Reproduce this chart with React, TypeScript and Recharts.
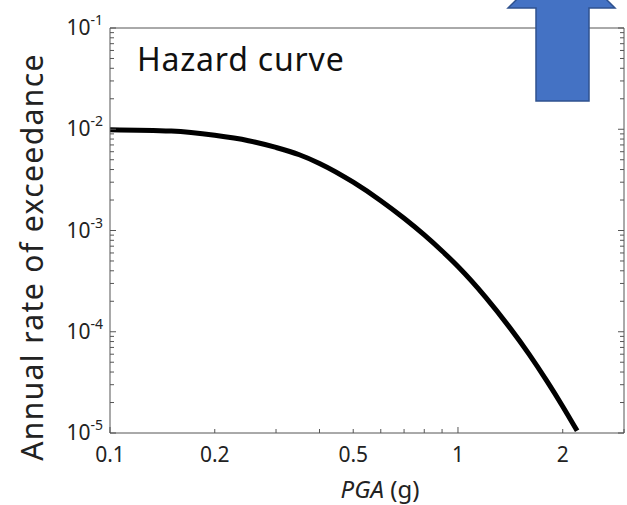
import { LineChart, Line, XAxis, YAxis } from "recharts";

// hazard curve
const pga = [0.1, 0.15, 0.2, 0.25, 0.3, 0.35, 0.4, 0.5, 0.6, 0.7, 0.8, 0.9, 1.0, 1.2, 1.4, 1.6, 1.8, 2.0, 2.2];
const rate = [
  0.00991, 0.00959, 0.00871, 0.00771, 0.00661, 0.0056, 0.0046, 0.003, 0.00197, 0.00132,
  0.000904, 0.000627, 0.000441, 0.00022, 0.000113, 0.0000601, 0.0000327, 0.0000183, 0.0000105,
];

const xTicks = [0.1, 0.2, 0.3, 0.4, 0.5, 0.6, 0.7, 0.8, 0.9, 1, 2, 3];
const xLabels = [0.1, 0.2, 0.5, 1, 2];
const yLabels = [1e-5, 1e-4, 1e-3, 1e-2, 1e-1];
const yTicks = yLabels.flatMap((d, i) =>
  i < yLabels.length - 1 ? [d, ...[2, 3, 4, 5, 6, 7, 8, 9].map((m) => m * d)] : [d]
);

const data = pga.map((x, i) => ({ x, y: rate[i] }));

const FONT = "'Noto Sans', sans-serif";
const AXIS = "#555";

const isMajor = (v: number) => Math.abs(Math.log10(v) - Math.round(Math.log10(v))) < 1e-6;

// ticks point inward, so the tick component draws them itself
const BottomTick = ({ x, y, payload }: any) => {
  const v = payload.value;
  const len = isMajor(v) ? 6 : 4;
  const show = xLabels.some((l) => Math.abs(l - v) < 1e-9);
  return (
    <g>
      <line x1={x} x2={x} y1={y} y2={y - len} stroke={AXIS} strokeWidth={1} />
      {show && (
        <text x={x} y={y} dy={29} textAnchor="middle" fontFamily={FONT} fontSize={21} fill="#222">
          {String(v)}
        </text>
      )}
    </g>
  );
};

const TopTick = ({ x, y, payload }: any) => {
  const len = isMajor(payload.value) ? 6 : 4;
  return <line x1={x} x2={x} y1={y} y2={y + len} stroke={AXIS} strokeWidth={1} />;
};

const LeftTick = ({ x, y, payload }: any) => {
  const v = payload.value;
  const major = yLabels.some((l) => Math.abs(l - v) / l < 1e-6);
  const exp = Math.round(Math.log10(v));
  return (
    <g>
      <line x1={x} x2={x + (major ? 6 : 4)} y1={y} y2={y} stroke={AXIS} strokeWidth={1} />
      {major && (
        <text x={x - 7} y={y} dy={7} textAnchor="end" fontFamily={FONT} fontSize={21} fill="#222">
          10
          <tspan dy={-10} fontSize={14}>
            {String(exp)}
          </tspan>
        </text>
      )}
    </g>
  );
};

const RightTick = ({ x, y, payload }: any) => {
  const v = payload.value;
  const major = yLabels.some((l) => Math.abs(l - v) / l < 1e-6);
  return <line x1={x} x2={x - (major ? 6 : 4)} y1={y} y2={y} stroke={AXIS} strokeWidth={1} />;
};

export default function App() {
  return (
    <div style={{ position: "absolute", left: 0, top: 0, width: 627, height: 505, background: "#fff" }}>
      <LineChart width={627} height={505} data={data} margin={{ top: 27, right: 2, left: 0, bottom: 0 }}>
        <XAxis
          dataKey="x"
          type="number"
          scale="log"
          domain={[0.1, 3]}
          ticks={xTicks}
          interval={0}
          allowDataOverflow
          height={72}
          tickSize={0}
          tickMargin={0}
          tickLine={false}
          stroke={AXIS}
          tick={<BottomTick />}
        />
        <XAxis
          xAxisId="top"
          orientation="top"
          type="number"
          scale="log"
          domain={[0.1, 3]}
          ticks={xTicks}
          interval={0}
          allowDataOverflow
          height={1}
          tickSize={0}
          tickMargin={0}
          tickLine={false}
          stroke={AXIS}
          tick={<TopTick />}
        />
        <YAxis
          type="number"
          scale="log"
          domain={[1e-5, 1e-1]}
          ticks={yTicks}
          interval={0}
          allowDataOverflow
          width={110}
          tickSize={0}
          tickMargin={0}
          tickLine={false}
          stroke={AXIS}
          tick={<LeftTick />}
        />
        <YAxis
          yAxisId="right"
          orientation="right"
          type="number"
          scale="log"
          domain={[1e-5, 1e-1]}
          ticks={yTicks}
          interval={0}
          allowDataOverflow
          width={1}
          tickSize={0}
          tickMargin={0}
          tickLine={false}
          stroke={AXIS}
          tick={<RightTick />}
        />
        <Line
          type="monotone"
          dataKey="y"
          stroke="#000"
          strokeWidth={5}
          dot={false}
          isAnimationActive={false}
        />
      </LineChart>
      <svg width={627} height={505} style={{ position: "absolute", left: 0, top: 0, pointerEvents: "none" }}>
        <text x={137} y={71} fontFamily={FONT} fontSize={32} letterSpacing={0.8} fill="#111">
          Hazard curve
        </text>
        <text
          transform="translate(43, 257) rotate(-90)"
          textAnchor="middle"
          fontFamily={FONT}
          fontSize={30}
          letterSpacing={1.4}
          fill="#222"
        >
          Annual rate of exceedance
        </text>
        <text x={380} y={498} textAnchor="middle" fontFamily={FONT} fontSize={24} fill="#222">
          <tspan fontStyle="italic">PGA</tspan> (g)
        </text>
        <polygon
          points="536,101 589,101 589,8 615,8 561.5,-45 508,8 536,8"
          fill="#4472C4"
          stroke="#2F528F"
          strokeWidth={1.5}
        />
      </svg>
    </div>
  );
}
